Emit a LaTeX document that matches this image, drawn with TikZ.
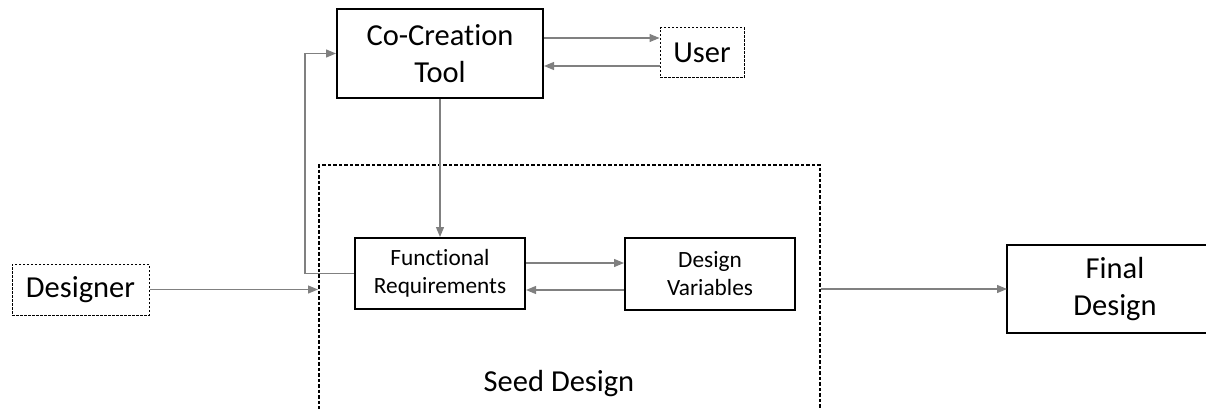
\documentclass[tikz,border=0pt]{standalone}
\usepackage{fontspec}
\setmainfont{Carlito}[Ligatures=NoCommon]
\usetikzlibrary{arrows.meta}
\definecolor{linegray}{RGB}{128,128,128}
\tikzset{
  big/.style={font=\fontsize{30.5}{37}\selectfont},
  small/.style={font=\fontsize{23.3}{28}\selectfont},
  block/.style={draw, line width=2pt, inner sep=0pt, align=center},
  actor/.style={draw, line width=1pt, dash pattern=on 2.5pt off 1.5pt, inner sep=0pt, align=center},
  conn/.style={draw=linegray, line width=1.2pt, -{Triangle[length=10pt,width=8pt]}, color=linegray}
}
\begin{document}
\begin{tikzpicture}[x=1pt, y=-1pt]
      \useasboundingbox (0,0) rectangle (1206,409);
      \node[block, big, minimum width=206pt, minimum height=89pt] (tool) at (440,53.5) {Co-Creation\\Tool};
      \node[actor, big, minimum width=84pt, minimum height=50pt] (user) at (702,53) {User};
      \node[actor, big, minimum width=137pt, minimum height=51pt] (designer) at (80.5,289.5) {Designer};
      \node[draw, line width=2pt, dash pattern=on 3.5pt off 2pt, minimum width=501pt, minimum height=275pt] (seed) at (569.5,302.5) {};
      \node[big] (seedlabel) at (559,384) {Seed Design};
      \node[block, small, minimum width=170pt, minimum height=71pt] (func) at (440,273.5) {Functional\\Requirements};
      \node[block, small, minimum width=170pt, minimum height=72pt] (vars) at (710,274) {Design\\Variables};
      \node[inner sep=0pt, minimum width=300pt, minimum height=88pt, anchor=west] (final) at (1007,289) {};
      \draw[line width=2pt] (final.north east) -- (final.north west) -- (final.south west) -- (final.south east);
      \node[big, align=center] (finallabel) at (1115,289) {Final\\Design};
      \begin{scope}[conn]
        \draw (tool.east |- 0,38) -- (user.west |- 0,38);
        \draw (user.west |- 0,66) -- (tool.east |- 0,66);
        \draw (tool.south) -- (func.north);
        \draw (func.east |- 0,263) -- (vars.west |- 0,263);
        \draw (vars.west |- 0,290) -- (func.east |- 0,290);
        \draw (func.west) -- ++(-49,0) |- (tool.west);
        \draw (designer.east) -- (designer.east -| seed.west);
        \draw (final.west -| seed.east) -- (final.west);
      \end{scope}
    \end{tikzpicture}
\end{document}
